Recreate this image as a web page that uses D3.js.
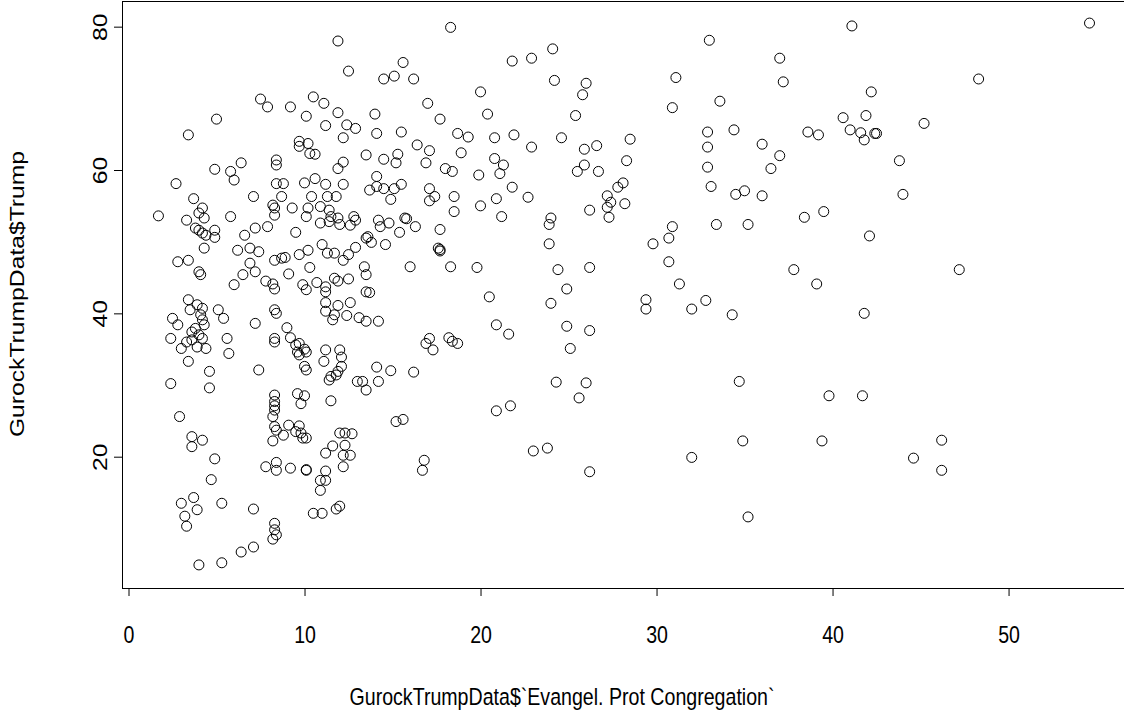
<!DOCTYPE html>
<html>
<head>
<meta charset="utf-8">
<script src="https://cdn.jsdelivr.net/npm/d3@7"></script>
<style>
  body { margin: 0; background: #fff; }
  text { font-family: "Liberation Sans", Arial, sans-serif; }
</style>
</head>
<body>
<div id="chart"></div>
<script>
// evangelical protestant congregation share vs Trump vote share
const points = [
  [1.7,53.6],[3.7,56.0],[3.3,53.0],[4.2,54.7],[4.0,54.0],[4.3,53.3],[3.8,51.9],[4.0,51.6],[4.2,51.2],[4.4,50.9],
  [4.9,51.6],[4.9,50.6],[4.3,49.1],[5.8,53.5],[6.6,50.9],[6.2,48.8],[2.8,47.2],[3.4,47.4],[4.0,45.8],[4.1,45.4],
  [6.5,45.4],[6.0,44.0],[3.4,41.9],[3.5,40.5],[3.9,41.2],[4.2,40.7],[4.1,39.8],[4.2,39.1],[4.3,38.4],[3.8,37.9],
  [3.6,37.4],[4.0,37.0],[3.6,36.3],[3.3,36.0],[4.2,36.5],[2.5,39.3],[2.8,38.4],[2.4,36.5],[3.0,35.1],[3.9,35.3],
  [4.4,35.1],[5.1,40.5],[5.4,39.3],[5.6,36.5],[5.7,34.4],[3.4,33.3],[4.6,31.9],[2.4,30.2],[4.6,29.6],[2.9,25.6],
  [3.6,22.8],[4.2,22.3],[3.6,21.4],[4.9,19.7],[4.7,16.8],[3.7,14.3],[3.0,13.5],[3.9,12.6],[5.3,13.5],[3.2,11.7],
  [3.3,10.3],[6.4,6.7],[4.0,4.9],[5.3,5.2],[5.0,67.1],[3.4,64.9],[6.4,61.0],[4.9,60.1],[5.8,59.8],[6.0,58.6],
  [2.7,58.1],
  [11.9,78.0],[12.5,73.8],[7.5,69.9],[7.9,68.8],[9.2,68.8],[10.5,70.2],[11.1,69.3],[11.9,68.0],[10.1,67.5],[11.2,66.2],
  [12.4,66.3],[12.9,65.8],[12.2,64.5],[9.7,64.0],[10.2,63.7],[9.7,63.3],[10.3,62.3],[10.6,62.2],[13.5,62.1],[8.4,61.4],
  [8.4,60.7],[12.2,61.1],[11.9,60.2],[8.4,58.1],[8.8,58.1],[10.0,58.2],[10.6,58.8],[11.2,58.0],[12.2,58.0],[7.1,56.3],
  [8.7,56.3],[10.4,56.3],[11.3,56.3],[11.8,56.3],
  [18.3,79.9],[15.6,75.0],[14.5,72.7],[15.1,73.1],[16.2,72.7],[20.0,70.9],[17.0,69.3],[14.0,67.8],[20.4,67.8],[17.7,67.1],
  [14.1,65.1],[15.5,65.3],[18.7,65.1],[19.3,64.6],[20.8,64.5],[16.4,63.5],[17.1,62.7],[18.9,62.4],[14.5,61.5],[15.3,62.2],
  [15.2,61.0],[16.9,61.0],[18.0,60.2],[18.4,59.8],[19.9,59.3],[20.8,61.6],[14.1,59.1],[13.7,57.2],[14.1,57.7],[14.5,57.4],
  [15.1,57.4],[15.5,58.0],[17.1,57.4],[17.4,56.3],[18.5,56.3],[14.9,55.9],
  [24.1,76.9],[21.8,75.2],[22.9,75.6],[24.2,72.5],[26.0,72.1],[25.8,70.5],[31.1,72.9],[30.9,68.7],[25.4,67.6],[21.9,64.9],
  [22.9,63.2],[24.6,64.5],[25.9,62.9],[26.6,63.4],[28.5,64.3],[28.3,61.3],[25.9,60.7],[25.5,59.8],[26.7,59.8],[21.3,60.7],
  [21.1,59.5],[21.8,57.6],[20.9,56.0],[22.7,56.2],[21.2,53.5],[27.2,56.4],[27.8,57.6],[28.1,58.2],[27.4,55.5],[27.2,54.8],
  [27.3,53.4],[28.2,55.3],[26.2,54.4],[24.0,53.3],[23.9,52.4],[23.9,49.7],[29.8,49.7],[30.9,52.1],[30.7,50.5],[30.7,47.2],
  [31.3,44.1],[24.4,46.1],[26.2,46.4],[24.9,43.4],[24.0,41.4],[29.4,41.9],[29.4,40.6],[32.0,40.6],[20.5,42.3],[20.9,38.4],
  [21.6,37.1],[24.9,38.2],[26.2,37.6],[25.1,35.1],[24.3,30.4],[26.0,30.3],[25.6,28.2],[20.9,26.4],[21.7,27.1],[23.0,20.8],
  [23.8,21.2],[26.2,17.9],[32.0,19.9],
  [33.0,78.1],[41.1,80.1],[37.0,75.6],[37.2,72.3],[42.2,70.9],[33.6,69.6],[40.6,67.3],[41.9,67.6],[32.9,65.3],[34.4,65.6],
  [38.6,65.3],[39.2,64.9],[41.0,65.6],[41.6,65.2],[41.8,64.2],[42.4,65.1],[42.5,65.1],[32.9,63.2],[36.0,63.6],[37.0,62.0],
  [36.5,60.2],[43.8,61.3],[32.9,60.4],[33.1,57.7],[34.5,56.6],[35.0,57.1],[36.0,56.4],[44.0,56.6],[38.4,53.4],[39.5,54.2],
  [33.4,52.4],[35.2,52.4],[42.1,50.8],[37.8,46.1],[39.1,44.1],[32.8,41.8],[34.3,39.8],[41.8,40.0],[34.7,30.5],[39.8,28.5],
  [41.7,28.5],[34.9,22.2],[39.4,22.2],[44.6,19.8],[35.2,11.6],
  [54.6,80.5],[48.3,72.7],[45.2,66.5],[47.2,46.1],[46.2,22.3],[46.2,18.1],
  [8.2,55.1],[8.3,54.7],[8.3,53.7],[9.3,54.7],[10.2,54.7],[10.1,53.5],[10.9,54.9],[11.4,54.4],[11.5,53.5],[11.9,53.3],
  [11.4,52.8],[10.9,52.6],[12.0,52.4],[12.6,52.3],[12.8,53.5],[12.9,53.0],[7.2,51.9],[7.9,52.1],[9.5,51.3],[13.5,50.5],
  [6.9,49.1],[7.4,48.6],[8.3,47.4],[8.7,47.7],[8.9,47.8],[9.7,48.2],[10.2,48.8],[11.0,49.6],[11.3,48.4],[11.7,48.4],
  [12.5,48.2],[12.9,49.2],[12.2,47.4],[6.9,47.0],[7.2,45.8],[10.3,46.4],[9.1,45.5],[13.4,46.5],[13.5,45.4],[7.8,44.5],
  [8.2,44.1],[8.3,43.4],[9.9,44.0],[10.1,43.3],[10.7,44.3],[11.2,43.7],[11.2,43.0],[11.7,44.9],[11.9,44.5],[12.5,44.8],
  [13.5,43.0],[11.2,41.5],[11.2,40.3],[11.9,41.1],[12.6,41.5],[11.7,39.8],[11.6,39.1],[12.4,39.7],[13.1,39.4],[13.5,38.9],
  [7.2,38.6],[8.3,40.5],[8.4,40.0],[9.0,38.0],[9.2,36.6],[8.3,36.5],[8.3,36.0],[9.7,35.8],[9.5,35.6],[9.6,34.6],
  [10.0,35.0],[10.1,34.6],[9.7,34.2],[11.2,34.9],[12.0,34.9],[12.1,33.9],[11.1,33.3],[12.1,32.6],[11.9,31.9],[11.5,31.2],
  [11.4,30.7],[11.8,31.4],[10.0,32.6],[10.1,32.1],[7.4,32.1],[13.0,30.5],[13.3,30.5],[13.5,29.3],
  [8.3,28.6],[8.3,27.7],[8.3,27.1],[8.3,26.5],[8.2,25.6],[9.6,28.8],[10.0,28.5],[9.8,27.4],[11.5,27.8],[8.3,24.2],
  [8.4,23.7],[8.2,22.2],[8.8,23.0],[9.1,24.4],[9.7,24.3],[9.5,23.5],[9.8,23.3],[9.9,22.6],[10.1,22.6],[11.2,20.5],
  [11.6,21.5],[12.0,23.3],[12.3,23.3],[12.7,23.2],[12.3,21.6],[12.2,20.2],[12.6,20.2],[12.2,18.6],[7.8,18.6],[8.4,19.2],
  [8.4,18.1],[9.2,18.4],[10.1,18.1],[10.1,18.2],[11.2,18.0],[10.9,16.7],[11.2,16.7],[10.9,15.3],[7.1,12.7],[10.5,12.1],
  [11.0,12.1],[11.8,12.7],[12.0,13.1],[8.3,10.7],[8.3,9.8],[8.4,9.1],[8.2,8.5],[7.1,7.4],
  [17.1,55.7],[18.5,54.2],[20.0,55.0],[14.2,53.0],[14.3,52.1],[14.8,52.6],[15.7,53.3],[15.8,53.2],[16.3,52.1],[15.4,51.3],
  [13.6,50.7],[13.8,49.9],[14.6,49.6],[17.7,51.7],[17.6,49.1],[17.7,48.7],[17.7,48.9],[16.0,46.5],[18.3,46.5],[19.8,46.4],
  [13.7,42.9],[14.2,38.9],[17.1,36.5],[16.9,35.8],[17.3,34.9],[18.2,36.6],[18.4,36.1],[18.7,35.8],[14.1,32.5],[14.9,32.0],
  [16.2,31.8],[14.2,30.5],
  [15.2,24.9],[15.6,25.2],[16.8,19.5],[16.7,18.1]
];
const xTicks = [0, 10, 20, 30, 40, 50];
const yTicks = [20, 40, 60, 80];
const xTitle = "GurockTrumpData$`Evangel. Prot Congregation`";
const yTitle = "GurockTrumpData$Trump";

const width = 1124, height = 711;
const box = { left: 122, right: 1127, top: 1, bottom: 588 };
const fontPx = 19.6;
const stretch = 1.26;   // the source picture is taller than it is wide, text too

const svg = d3.select("#chart").append("svg")
    .attr("width", width)
    .attr("height", height);

const x = d3.scaleLinear().domain([-0.37, 56.73]).range([box.left, box.right]);
const y = d3.scaleLinear().domain([1.68, 83.58]).range([box.bottom, box.top]);

// points
svg.append("g")
    .selectAll("circle")
    .data(points)
    .enter()
    .append("circle")
    .attr("cx", d => x(d[0]))
    .attr("cy", d => y(d[1]))
    .attr("r", 5)
    .style("fill", "none")
    .style("stroke", "#000")
    .style("stroke-width", 1);

// plot frame
svg.append("rect")
    .attr("x", box.left + 0.5)
    .attr("y", box.top + 0.5)
    .attr("width", box.right - box.left)
    .attr("height", box.bottom - box.top)
    .style("fill", "none")
    .style("stroke", "#000")
    .style("stroke-width", 1);

// x axis
const xAxis = svg.append("g")
    .attr("transform", `translate(0,${box.bottom})`)
    .call(d3.axisBottom(x).tickValues(xTicks).tickSize(8).tickSizeOuter(0));
xAxis.select(".domain").remove();
xAxis.attr("font-size", fontPx).attr("font-family", null);
xAxis.selectAll("text")
    .attr("y", 0)
    .attr("dy", 0)
    .attr("transform", `translate(0,55) scale(1,${stretch})`)
    .style("fill", "#000");

// y axis, labels turned like R does
const yAxis = svg.append("g")
    .attr("transform", `translate(${box.left},0)`)
    .call(d3.axisLeft(y).tickValues(yTicks).tickSize(8).tickSizeOuter(0));
yAxis.select(".domain").remove();
yAxis.attr("font-size", fontPx).attr("font-family", null);
yAxis.selectAll("text")
    .attr("transform", `translate(-15,0) scale(1,${stretch}) rotate(-90)`)
    .attr("x", 0)
    .attr("y", 0)
    .attr("dy", 0)
    .attr("text-anchor", "middle")
    .style("fill", "#000");

// titles
svg.append("text")
    .attr("transform", `translate(562,705) scale(1,${stretch})`)
    .attr("text-anchor", "middle")
    .style("font-size", fontPx + "px")
    .text(xTitle);

svg.append("text")
    .attr("transform", `translate(24,294) scale(1,${stretch}) rotate(-90)`)
    .attr("text-anchor", "middle")
    .style("font-size", fontPx + "px")
    .text(yTitle);
</script>
</body>
</html>
